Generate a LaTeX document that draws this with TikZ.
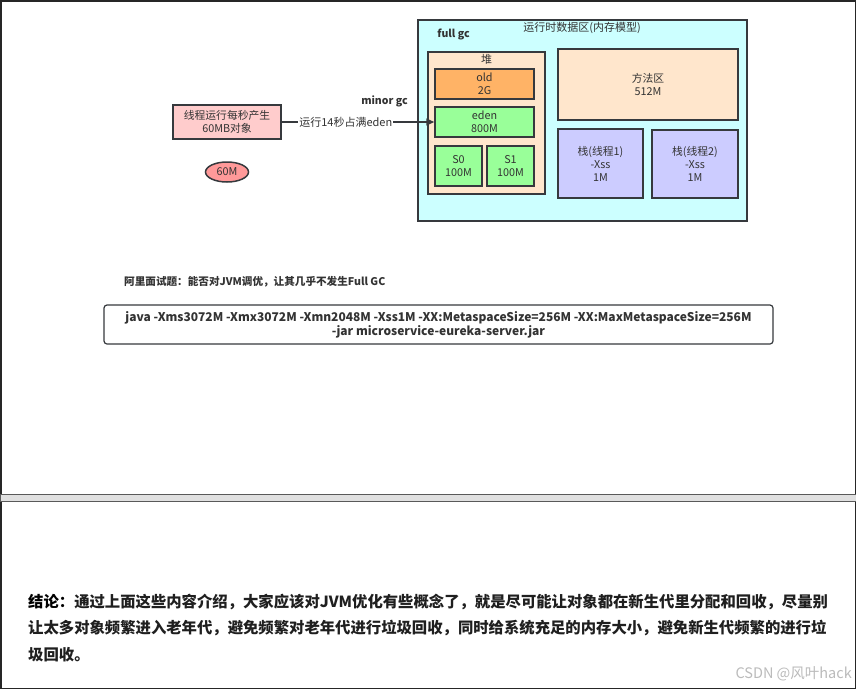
\documentclass[tikz,border=0pt]{standalone}
\usepackage{fontspec}
\setmainfont{Noto Sans CJK SC}
\usetikzlibrary{arrows.meta,shapes.geometric}
\definecolor{bd}{HTML}{36393D}
\definecolor{tx}{HTML}{333333}
\definecolor{cyanf}{HTML}{CCFFFF}
\definecolor{peach}{HTML}{FFE6CC}
\definecolor{orangef}{HTML}{FFB366}
\definecolor{greenf}{HTML}{99FF99}
\definecolor{lav}{HTML}{CCCCFF}
\definecolor{pinkf}{HTML}{FFCCCC}
\definecolor{salmon}{HTML}{FF9999}
\definecolor{bandf}{HTML}{E0E0E0}
\definecolor{wm}{HTML}{BBBBBB}
\tikzset{
  box/.style={draw=bd, line width=1.5pt, inner sep=0pt, align=center, text=tx,
    font=\fontsize{10.8}{13}\selectfont},
  lbl/.style={inner sep=0pt, text=tx, font=\fontsize{11}{13}\selectfont},
  blbl/.style={inner sep=0pt, text=tx, font=\bfseries\fontsize{10.5}{13}\selectfont},
  concl/.style={inner sep=0pt, anchor=west, text=black!88, font=\bfseries\fontsize{15.35}{18}\selectfont},
}
\begin{document}
\begin{tikzpicture}[x=1pt,y=-1pt]
\useasboundingbox (0,0) rectangle (856,689);
\fill[white] (0,0) rectangle (856,689);
\draw[line width=1.5pt, black!85] (0.75,0.75) rectangle (855.25,688.25);
% runtime data area
\node[box, fill=cyanf, minimum width=329pt, minimum height=201pt] (rt) at (582.5,120.5) {};
\node[lbl] (rttitle) at (582,28) {运行时数据区(内存模型)};
\node[blbl] (fullgc) at (453.5,34) {full gc};
% heap
\node[box, fill=peach, minimum width=117pt, minimum height=142pt] (heap) at (486.5,123) {};
\node[lbl] (heapt) at (486.5,59) {堆};
\node[box, fill=orangef, minimum width=99pt, minimum height=30pt] (old) at (484.5,84) {old\\2G};
\node[box, fill=greenf, minimum width=99pt, minimum height=30pt] (eden) at (484.5,122) {eden\\800M};
\node[box, fill=greenf, minimum width=47pt, minimum height=40pt] (s0) at (458.5,166) {S0\\100M};
\node[box, fill=greenf, minimum width=47pt, minimum height=40pt] (s1) at (510.5,166) {S1\\100M};
% method area and stacks
\node[box, fill=peach, minimum width=180pt, minimum height=71pt] (meth) at (648,84.5) {方法区\\512M};
\node[box, fill=lav, minimum width=85pt, minimum height=69pt] (st1) at (600.5,163.5) {栈(线程1)\\-Xss\\1M};
\node[box, fill=lav, minimum width=86pt, minimum height=68pt] (st2) at (695,164) {栈(线程2)\\-Xss\\1M};
% thread
\node[box, fill=pinkf, minimum width=108pt, minimum height=34pt] (thr) at (227,122) {线程运行每秒产生\\60MB对象};
\node[box, ellipse, fill=salmon, minimum width=43pt, minimum height=20pt] (m60) at (227,172) {60M};
\node[blbl] (minor) at (384.5,101) {minor gc};
\draw[bd, line width=1.5pt, -{Triangle[length=8pt,width=7pt]}] (thr.east) -- (eden.west)
  node[pos=0.42, fill=white, inner sep=1pt, text=tx, font=\fontsize{11}{13}\selectfont] (arrlbl) {运行14秒占满eden};
% interview question
\node[inner sep=0pt, anchor=west, text=tx, font=\bfseries\fontsize{10.6}{12}\selectfont] (q) at (124,282) {阿里面试题：能否对JVM调优，让其几乎不发生Full GC};
\node[draw=bd, line width=1.2pt, rounded corners=3pt, minimum width=669pt, minimum height=39pt,
  inner sep=0pt, align=center, text=tx, font=\bfseries\fontsize{12}{14}\selectfont] (cmd) at (438.5,324.5)
  {java -Xms3072M -Xmx3072M -Xmn2048M -Xss1M -XX:MetaspaceSize=256M -XX:MaxMetaspaceSize=256M\\-jar microservice-eureka-server.jar};
% band
\draw[fill=bandf, draw=black!65, line width=1pt] (0,494.5) rectangle (856,501.5);
% conclusion
\node[concl] (c1) at (28,602) {\textcolor{black}{结论：}通过上面这些内容介绍，大家应该对JVM优化有些概念了，就是尽可能让对象都在新生代里分配和回收，尽量别};
\node[concl] (c2) at (28,628) {让太多对象频繁进入老年代，避免频繁对老年代进行垃圾回收，同时给系统充足的内存大小，避免新生代频繁的进行垃};
\node[concl] (c3) at (28,655) {圾回收。};
\node[inner sep=0pt, anchor=east, text=wm, font=\fontsize{14.5}{16}\selectfont] (wmk) at (852,674) {CSDN @风叶hack};
\end{tikzpicture}
\end{document}
